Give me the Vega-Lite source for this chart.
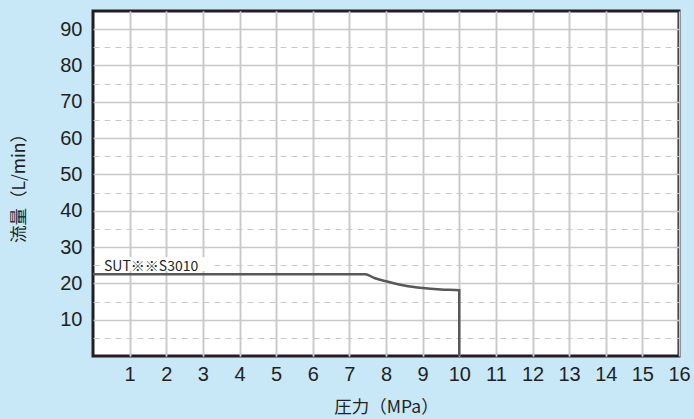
{
  "$schema": "https://vega.github.io/schema/vega-lite/v6.json",
  "autosize": {"type": "none"},
  "width": 586,
  "height": 345,
  "padding": {"left": 93, "top": 11, "right": 15, "bottom": 63},
  "background": "#c8e8f8",
  "config": {
    "view": {"stroke": "#231f20", "strokeWidth": 3, "fill": "white"},
    "font": "Liberation Sans",
    "axis": {"labelFont": "Liberation Sans", "titleFont": "Noto Sans CJK JP"}
  },
  "datasets": {
    "curve": [
      {"pressure": 0, "flow": 22.5},
      {"pressure": 7.43, "flow": 22.5},
      {"pressure": 7.7, "flow": 21.4},
      {"pressure": 8.0, "flow": 20.6},
      {"pressure": 8.5, "flow": 19.4},
      {"pressure": 9.0, "flow": 18.7},
      {"pressure": 9.5, "flow": 18.3},
      {"pressure": 10.0, "flow": 18.1},
      {"pressure": 10.0, "flow": 0}
    ],
    "label": [{"pressure": 0.3, "flow": 24.6, "name": "SUT※※S3010"}]
  },
  "resolve": {"axis": {"y": "independent", "x": "independent"}},
  "layer": [
    {
      "mark": {"type": "rule", "opacity": 0},
      "data": {"name": "curve"},
      "encoding": {
        "x": {"field": "pressure", "type": "quantitative",
          "scale": {"domain": [0, 16], "nice": false, "zero": false},
          "axis": {"orient": "bottom", "values": [1,2,3,4,5,6,7,8,9,10,11,12,13,14,15], "labels": false, "ticks": false, "domain": false, "title": null,
            "grid": true, "gridColor": "#c8c8c8", "gridWidth": 1.5, "gridOpacity": 1}},
        "y": {"field": "flow", "type": "quantitative",
          "scale": {"domain": [0, 95], "nice": false, "zero": false},
          "axis": {"orient": "left", "values": [5,15,25,35,45,55,65,75,85], "labels": false, "ticks": false, "domain": false, "title": null,
            "grid": true, "gridColor": "#c8c8c8", "gridWidth": 1.2, "gridDash": [6, 5], "gridOpacity": 1}}
      }
    },
    {
      "mark": {"type": "line", "color": "#58585a", "strokeWidth": 2.5, "interpolate": "monotone"},
      "data": {"name": "curve"},
      "encoding": {
        "x": {"field": "pressure", "type": "quantitative",
          "axis": {"orient": "bottom", "values": [1,2,3,4,5,6,7,8,9,10,11,12,13,14,15,16], "ticks": false, "domain": false,
            "grid": true, "gridColor": "#c8c8c8", "gridWidth": 1.5, "gridOpacity": 1,
            "labelFontSize": 20, "labelColor": "#231f20", "labelPadding": 8, "labelFlush": false, "labelOverlap": false,
            "title": "圧力（MPa）", "titleFontSize": 17.5, "titleFontWeight": "normal", "titleColor": "#231f20", "titlePadding": 14}},
        "y": {"field": "flow", "type": "quantitative",
          "axis": {"orient": "left", "values": [10,20,30,40,50,60,70,80,90], "ticks": false, "domain": false,
            "grid": true, "gridColor": "#c8c8c8", "gridWidth": 1.5, "gridOpacity": 1,
            "labelFontSize": 20, "labelColor": "#231f20", "labelPadding": 11, "labelFlush": false, "labelOverlap": false,
            "title": "流量（L/min）", "titleFontSize": 17.5, "titleFontWeight": "normal", "titleColor": "#231f20", "titlePadding": 31}},
        "order": {"field": "pressure_order"}
      }
    },
    {
      "mark": {"type": "rect", "color": "white"},
      "data": {"name": "label"},
      "encoding": {
        "x": {"datum": 0.2, "type": "quantitative", "axis": null},
        "x2": {"datum": 3.28},
        "y": {"datum": 23.4, "type": "quantitative", "axis": null},
        "y2": {"datum": 27.2}
      }
    },
    {
      "mark": {"type": "text", "align": "left", "baseline": "middle", "fontSize": 14, "font": "Noto Sans CJK JP", "color": "#231f20"},
      "data": {"name": "label"},
      "encoding": {
        "x": {"field": "pressure", "type": "quantitative", "axis": null},
        "y": {"field": "flow", "type": "quantitative", "axis": null},
        "text": {"field": "name"}
      }
    }
  ]
}
